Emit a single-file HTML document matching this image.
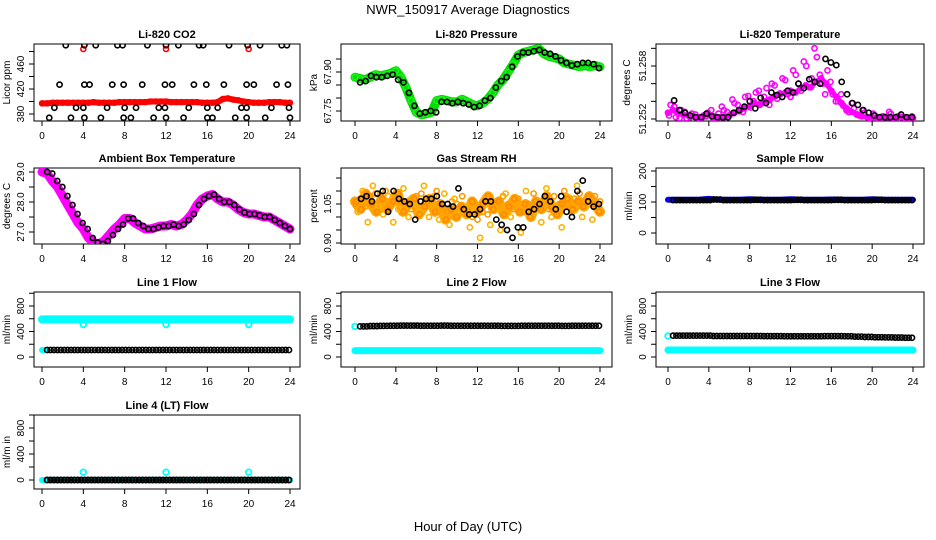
<!DOCTYPE html>
<html><head><meta charset="utf-8"><style>
html,body{margin:0;padding:0;background:#fff;}
svg{display:block;font-family:"Liberation Sans",sans-serif;}
</style></head><body>
<svg id="c" width="936" height="540" viewBox="0 0 936 540">
<text x="468" y="14" text-anchor="middle" font-size="13">NWR_150917  Average Diagnostics</text>
<text x="468" y="531" text-anchor="middle" font-size="13">Hour of Day (UTC)</text>
</svg>
<script>
// ---------- data ----------
const xTicks = [0,4,8,12,16,20,24];
const co2Raw = [397,397,398,398,398,398,398,398,398,398,399,398,398,398,398,399,399,399,399,399,399,400,400,400,400,399,399,399,399,399,399,398,398,398,399,404,405,403,402,400,399,398,398,398,399,399,399,398,398];
const co2OutHours = [4,12,20];
const co2OutVals = [484,484,484];
const co2MeanHours = [2.3,4.1,5.2,7.3,7.8,10.2,12.0,13.2,15.2,15.6,18.1,19.9,21.1,23.2,23.7, 1.7,4.1,4.6,6.8,7.9,9.7,11.9,12.6,14.7,15.9,17.6,19.8,20.5,22.7,23.8, 1.2,3.3,4.0,6.3,8.0,9.1,11.3,11.9,14.2,16.0,17.0,19.3,19.8,22.2,23.9, 0.7,2.8,4.1,5.7,7.9,8.6,10.8,12.0,13.7,16.0,16.5,18.7,19.8,21.6,24.0];
const co2MeanVals = [490,490,490,490,490,490,490,490,490,490,490,490,490,490,490, 427,427,427,427,427,427,427,427,427,427,427,427,427,427,427, 390,390,390,390,390,390,390,390,390,390,390,390,390,390,390, 374,374,374,374,374,374,374,374,374,374,374,374,374,374,374];
const presRaw = [67.88,67.875,67.87,67.88,67.89,67.885,67.89,67.895,67.905,67.88,67.84,67.79,67.745,67.735,67.74,67.745,67.79,67.795,67.79,67.785,67.785,67.795,67.785,67.775,67.77,67.78,67.795,67.82,67.85,67.87,67.90,67.93,67.965,67.975,67.98,67.985,67.99,67.97,67.96,67.955,67.95,67.935,67.93,67.925,67.92,67.925,67.92,67.925,67.92];
const presMean = [67.86,67.865,67.885,67.88,67.88,67.885,67.89,67.87,67.86,67.82,67.77,67.74,67.745,67.75,67.745,67.785,67.785,67.78,67.785,67.78,67.775,67.765,67.77,67.79,67.80,67.84,67.865,67.88,67.92,67.96,67.975,67.975,67.98,67.985,67.975,67.97,67.96,67.945,67.935,67.925,67.93,67.935,67.935,67.93,67.915];
const tempA = [51.2527,51.2530,51.2526,51.2525,51.2524,51.2523,51.2522,51.2524,51.2525,51.2523,51.2522,51.2522,51.2524,51.2527,51.2529,51.2532,51.2535,51.2538,51.2536,51.2540,51.2542,51.2546,51.2548,51.2550,51.2552,51.2550,51.2555,51.2558,51.2556,51.2562,51.2566,51.2560,51.2552,51.2545,51.2538,51.2532,51.2528,51.2525,51.2523,51.2522,51.2522,51.2521,51.2523,51.2522,51.2521,51.2523,51.2522,51.2521,51.2521];
const tempB = [51.2536,51.2522,51.2530,51.2521,51.2526,51.2521,51.2522,51.2527,51.2521,51.2526,51.2530,51.2524,51.2538,51.2530,51.2545,51.2533,51.2550,51.2538,51.2555,51.2560,51.2543,51.2566,51.2548,51.2575,51.2560,51.2585,51.2556,51.2600,51.2570,51.2548,51.2562,51.2540,51.2548,51.2530,51.2538,51.2525,51.2530,51.2522,51.2526,51.2521,51.2523,51.2528,51.2521,51.2523,51.2521,51.2522];
const tempC = [51.2524,51.2534,51.2521,51.2528,51.2522,51.2525,51.2521,51.2523,51.2530,51.2521,51.2534,51.2528,51.2542,51.2536,51.2528,51.2546,51.2540,51.2552,51.2545,51.2536,51.2558,51.2549,51.2564,51.2545,51.2570,51.2552,51.2580,51.2566,51.2590,51.2560,51.2575,51.2548,51.2540,51.2535,51.2528,51.2532,51.2524,51.2527,51.2521,51.2524,51.2521,51.2522,51.2526,51.2521,51.2522,51.2521,51.2523];
const tempMean = [51.2541,51.2530,51.2527,51.2524,51.2522,51.2522,51.2526,51.2523,51.2522,51.2522,51.2522,51.2527,51.2530,51.2534,51.2540,51.2532,51.2544,51.2538,51.2550,51.2547,51.2545,51.2552,51.2550,51.2560,51.2555,51.2565,51.2562,51.2560,51.2588,51.2584,51.2581,51.2562,51.2548,51.2538,51.2536,51.2530,51.2527,51.2524,51.2522,51.2522,51.2522,51.2522,51.2525,51.2522,51.2522];
const ambRaw = [29.0,28.95,28.7,28.5,28.2,27.9,27.6,27.3,27.1,26.8,26.65,26.6,26.7,26.9,27.1,27.25,27.45,27.45,27.3,27.2,27.1,27.1,27.15,27.2,27.2,27.25,27.2,27.25,27.4,27.6,27.9,28.1,28.2,28.25,28.1,28.0,28.0,27.9,27.75,27.65,27.6,27.6,27.55,27.5,27.5,27.4,27.3,27.2,27.1];
const rhA = [1.05,1.07,1.04,1.08,1.09,1.06,1.10,1.05,1.07,1.04,1.06,1.03,1.08,1.09,1.05,1.07,1.10,1.04,1.02,1.06,1.05,1.08,1.03,1.00,0.99,1.02,1.01,1.04,1.06,1.08,1.05,1.03,1.07,1.02,1.05,1.09,1.04,1.06,1.03,1.08,1.05,1.10,1.04,1.07,1.09,1.06,1.05,1.08,1.06];
const rhB = [1.02,1.10,0.98,1.12,1.04,1.01,1.08,0.98,1.03,1.11,1.00,1.06,1.02,1.12,1.00,1.08,0.99,1.09,0.97,1.07,1.01,1.04,0.96,1.02,0.92,1.05,0.97,1.03,0.95,1.09,1.00,1.07,0.94,1.10,1.01,1.06,0.98,1.11,1.00,1.04,0.96,1.08,1.02,1.12,1.00,1.05,0.99,1.03];
const rhC = [1.06,1.03,1.09,1.05,1.02,1.07,1.03,1.06,1.09,1.02,1.05,1.07,1.01,1.04,1.07,1.02,1.05,0.99,1.03,1.00,1.04,1.01,1.06,1.02,1.05,1.08,1.03,1.06,1.01,1.04,1.07,1.02,1.05,1.00,1.06,1.03,1.08,1.04,1.01,1.05,1.07,1.03,1.06,1.04,1.08,1.05,1.02];
const rhMean = [1.07,1.08,1.06,1.09,1.10,1.02,1.10,1.07,1.06,1.05,0.99,1.06,1.07,1.07,1.08,1.05,1.05,1.04,1.11,1.03,1.01,1.01,1.03,1.06,1.06,0.99,0.97,0.95,0.92,0.96,0.96,1.02,1.03,1.05,1.08,1.06,1.03,1.08,1.02,1.00,1.10,1.14,1.06,1.04,1.05];
const sampleRaw = [107,107,107,107,110,107,107,107,109,107,107,107,109,107,107,107,108,107,107,107,109,107,107,107,107];
const sampleMean = [106,106,106,106,108,106,106,106,107,106,106,106,107,106,106,106,107,106,106,106,107,106,106,106];
const line1Raw = [590,590,590,590,590,590,590,590,590,590,590,590,590,590,590,590,590,590,590,590,590,590,590,590,590];
const line1DipHours = [4,12,20];
const line1DipVals = [510,510,510];
const line1Low = [110];
const line1Mean = [110,110,110,110,110,110,110,110,110,110,110,110,110,110,110,110,110,110,110,110,110,110,110,110];
const line2Raw = [100,100,100,100,100,100,100,100,100,100,100,100,100,100,100,100,100,100,100,100,100,100,100,100,100];
const line2Start = [480];
const line2Mean = [480,485,488,490,492,492,490,490,492,490,490,490,490,490,488,488,490,490,490,490,488,490,490,490];
const line3Raw = [110,110,110,110,110,110,110,110,110,110,110,110,110,110,110,110,110,110,110,110,110,110,110,110,110];
const line3Start = [330];
const line3Mean = [335,335,335,335,330,330,330,330,330,328,328,325,325,325,325,328,328,325,320,315,310,308,305,302];
const line4Raw = [0,0,0,0,0,0,0,0,0,0,0,0,0,0,0,0,0,0,0,0,0,0,0,0,0];
const line4OutHours = [4,12,20];
const line4OutVals = [120,120,120];
const line4Mean = [0,0,0,0,0,0,0,0,0,0,0,0,0,0,0,0,0,0,0,0,0,0,0,0];

// ---------- helpers ----------
const NS = "http://www.w3.org/2000/svg";
const svg = document.getElementById('c');
function mk(tag, attrs, parent){ const e=document.createElementNS(NS,tag); for(const k in attrs) e.setAttribute(k,attrs[k]); (parent||svg).appendChild(e); return e; }
function axes(p){
  const xs = h => p.x0 + (p.x24-p.x0)*h/24;
  const ys = v => p.ya + (v-p.va)*(p.yb-p.ya)/(p.vb-p.va);
  return {xs, ys};
}
function panel(p){
  const g = mk('g',{});
  
  
  const {xs, ys} = axes(p);
  const box = mk('rect',{x:p.l,y:p.t,width:p.r-p.l,height:p.b-p.t,fill:'none',stroke:'#000','stroke-width':1},g);
  
  
  const t = mk('text',{x:(p.l+p.r)/2,y:p.t-6,'text-anchor':'middle','font-size':11,'font-weight':'bold'},g);
  t.textContent = p.title;
  
  
  xTicks.forEach(h=>{
    const x = xs(h);
    mk('line',{x1:x,x2:x,y1:p.b,y2:p.b+5,stroke:'#000'},g);
    const tx = mk('text',{x:x,y:p.b+18,'text-anchor':'middle','font-size':10},g);
    tx.textContent = h;
    
    
  });
  p.yTicks.forEach(v=>{
    const y = ys(v);
    mk('line',{x1:p.l-5,x2:p.l,y1:y,y2:y,stroke:'#000'},g);
  });
  p.yLabels.forEach((s,i)=>{
    const y = ys(p.yLabelVals[i]);
    const lx = p.l-10;
    const tx = mk('text',{x:lx,y:y,'text-anchor':'middle','font-size':10,transform:`rotate(-90 ${lx} ${y})`},g);
    tx.textContent = s;
    
    
  });
  const ym=(p.t+p.b)/2; const ax = p.l - p.ytOff;
  const at = mk('text',{x:ax,y:ym,'text-anchor':'middle','font-size':10,transform:`rotate(-90 ${ax} ${ym})`},g);
  at.textContent = p.ytitle;
  
  
  const clipId = 'cl'+p.name;
  const cp = mk('clipPath',{id:clipId},g); mk('rect',{x:p.l,y:p.t,width:p.r-p.l,height:p.b-p.t},cp);
  const plot = mk('g',{'clip-path':`url(#${clipId})`},g);
  return {g:plot, xs, ys};
}
function band(ctx, vals, h0, h1, color, w){
  const pts = vals.map((v,i)=>{ const h = vals.length>1 ? h0+(h1-h0)*i/(vals.length-1) : h0; return ctx.xs(h).toFixed(1)+','+ctx.ys(v).toFixed(1); });
  const pl = mk('polyline',{points:pts.join(' '),fill:'none',stroke:color,'stroke-width':w,'stroke-linecap':'round','stroke-linejoin':'round'},ctx.g);
  
  
}
function pts(ctx, hours, vals, color, r, sw, name){
  vals.forEach((v,i)=>{
    const c = mk('circle',{cx:ctx.xs(hours[i]),cy:ctx.ys(v),r:r,fill:'none',stroke:color,'stroke-width':sw},ctx.g);
    
    
  });
}
function spread(vals, h0, h1){ return vals.map((v,i)=> h0+(h1-h0)*i/(vals.length-1)); }
function hourly3(vals, h0, h1){ const hs=[], vs=[]; const n=vals.length*3; for(let j=0;j<n;j++){ hs.push(h0+(h1-h0)*j/(n-1)); vs.push(vals[Math.floor(j/3)]); } return {hs, vs}; }

// ---------- panels ----------
const C1={l:34,r:300,x0:42,x24:290}, C2={l:341,r:612,x0:355,x24:600}, C3={l:656,r:924,x0:668,x24:913};
const R1={t:44,b:121}, R2={t:168,b:244}, R3={t:292,b:367}, R4={t:415,b:489};
const flowTicks=[0,200,400,600,800,1000];

// CO2
let P = panel(Object.assign({name:'panel-co2',title:'Li-820 CO2',ytitle:'Licor ppm',ytOff:24,ya:114,va:380,yb:64,vb:460,yTicks:[380,400,420,440,460,480],yLabels:['380','420','460'],yLabelVals:[380,420,460]},C1,R1));
band(P, co2Raw, 0, 24, '#ff0000', 6);
pts(P, spread(co2Raw,0,24), co2Raw, '#ff0000', 2.5, 1.5, 'co2-raw-point');
pts(P, co2OutHours, co2OutVals, '#ff0000', 2.5, 1.6, 'co2-outlier');
pts(P, co2MeanHours, co2MeanVals, '#000', 2.6, 1.6, 'co2-mean-point');

// Pressure
P = panel(Object.assign({name:'panel-pressure',title:'Li-820 Pressure',ytitle:'kPa',ytOff:24,ya:111,va:67.75,yb:72,vb:67.90,yTicks:[67.75,67.80,67.85,67.90,67.95],yLabels:['67.75','67.90'],yLabelVals:[67.75,67.90]},C2,R1));
band(P, presRaw, 0, 24, '#00dd00', 9);
pts(P, spread(presRaw,0,24), presRaw, '#22ee22', 2.8, 1.5, 'pressure-raw-point');
pts(P, spread(presMean,0.5,23.9), presMean, '#000', 2.6, 1.6, 'pressure-mean-point');

// Temperature
P = panel(Object.assign({name:'panel-li820-temp',title:'Li-820 Temperature',ytitle:'degrees C',ytOff:26,ya:119,va:51.252,yb:66,vb:51.258,yTicks:[51.252,51.254,51.256,51.258,51.260],yLabels:['51.252','51.258'],yLabelVals:[51.252,51.258]},C3,R1));
band(P, tempA, 0, 24, '#ff00ff', 5);
pts(P, spread(tempA,0,24), tempA, '#ff00ff', 2.6, 1.6, 'temp-raw-point');
pts(P, spread(tempB,0.25,23.75), tempB, '#ff00ff', 2.6, 1.6, 'temp-raw-point');
pts(P, spread(tempC,0.1,23.9), tempC, '#ff00ff', 2.6, 1.6, 'temp-raw-point');
pts(P, spread(tempMean,0.6,23.9), tempMean, '#000', 2.6, 1.6, 'temp-mean-point');

// Ambient
P = panel(Object.assign({name:'panel-ambient',title:'Ambient Box Temperature',ytitle:'degrees C',ytOff:24,ya:232,va:27,yb:172,vb:29,yTicks:[27,27.5,28,28.5,29],yLabels:['27.0','28.0','29.0'],yLabelVals:[27,28,29]},C1,R2));
band(P, ambRaw, 0, 24, '#ff00ff', 9);
pts(P, spread(ambRaw,0.5,24), ambRaw, '#000', 2.6, 1.6, 'ambient-mean-point');

// RH
P = panel(Object.assign({name:'panel-rh',title:'Gas Stream RH',ytitle:'percent',ytOff:24,ya:243,va:0.90,yb:204,vb:1.05,yTicks:[0.90,0.95,1.00,1.05,1.10,1.15],yLabels:['0.90','1.05'],yLabelVals:[0.90,1.05]},C2,R2));
band(P, rhC, 0, 24, '#ffa500', 10);
pts(P, spread(rhA,0,24), rhA, '#ff9900', 2.6, 1.6, 'rh-raw-point');
pts(P, spread(rhB,0.25,23.75), rhB, '#ffb000', 2.6, 1.6, 'rh-raw-point');
pts(P, spread(rhC,0.1,23.9), rhC, '#ff8800', 2.6, 1.6, 'rh-raw-point');
pts(P, spread(rhMean,0.6,23.9), rhMean, '#000', 2.6, 1.6, 'rh-mean-point');

// Sample Flow
P = panel(Object.assign({name:'panel-sample-flow',title:'Sample Flow',ytitle:'ml/min',ytOff:24,ya:233,va:0,yb:171,vb:200,yTicks:[0,50,100,150,200],yLabels:['0','100','200'],yLabelVals:[0,100,200]},C3,R2));
band(P, sampleRaw, 0, 24, '#0000ff', 6);
let hh = hourly3(sampleMean, 0.5, 23.9);
pts(P, hh.hs, hh.vs, '#000', 2.6, 1.6, 'sample-mean-point');

// Line 1
P = panel(Object.assign({name:'panel-line1',title:'Line 1 Flow',ytitle:'ml/min',ytOff:24,ya:357,va:0,yb:306,vb:800,yTicks:flowTicks,yLabels:['0','400','800'],yLabelVals:[0,400,800]},C1,R3));
band(P, line1Raw, 0, 24, '#00ffff', 8);
pts(P, line1DipHours, line1DipVals, '#00ffff', 2.8, 1.8, 'line1-dip');
band(P, [line1Low[0],line1Low[0]], 0, 0.3, '#00ffff', 6);
hh = hourly3(line1Mean, 0.5, 23.9);
pts(P, hh.hs, hh.vs, '#000', 2.6, 1.6, 'line1-mean-point');

// Line 2
P = panel(Object.assign({name:'panel-line2',title:'Line 2 Flow',ytitle:'ml/min',ytOff:24,ya:357,va:0,yb:306,vb:800,yTicks:flowTicks,yLabels:['0','400','800'],yLabelVals:[0,400,800]},C2,R3));
band(P, line2Raw, 0, 24, '#00ffff', 7);
pts(P, [0], line2Start, '#00ffff', 2.8, 1.8, 'line2-start');
hh = hourly3(line2Mean, 0.5, 23.9);
pts(P, hh.hs, hh.vs, '#000', 2.6, 1.6, 'line2-mean-point');

// Line 3
P = panel(Object.assign({name:'panel-line3',title:'Line 3 Flow',ytitle:'ml/min',ytOff:24,ya:357,va:0,yb:306,vb:800,yTicks:flowTicks,yLabels:['0','400','800'],yLabelVals:[0,400,800]},C3,R3));
band(P, line3Raw, 0, 24, '#00ffff', 7);
pts(P, [0], line3Start, '#00ffff', 2.8, 1.8, 'line3-start');
hh = hourly3(line3Mean, 0.5, 23.9);
pts(P, hh.hs, hh.vs, '#000', 2.6, 1.6, 'line3-mean-point');

// Line 4
P = panel(Object.assign({name:'panel-line4',title:'Line 4 (LT) Flow',ytitle:'ml/m in',ytOff:24,ya:480,va:0,yb:428,vb:800,yTicks:flowTicks,yLabels:['0','400','800'],yLabelVals:[0,400,800]},C1,R4));
band(P, line4Raw, 0, 24, '#00ffff', 6);
pts(P, line4OutHours, line4OutVals, '#00ffff', 2.8, 1.8, 'line4-outlier');
hh = hourly3(line4Mean, 0.5, 23.9);
pts(P, hh.hs, hh.vs, '#000', 2.6, 1.8, 'line4-mean-point');
</script>
</body></html>
